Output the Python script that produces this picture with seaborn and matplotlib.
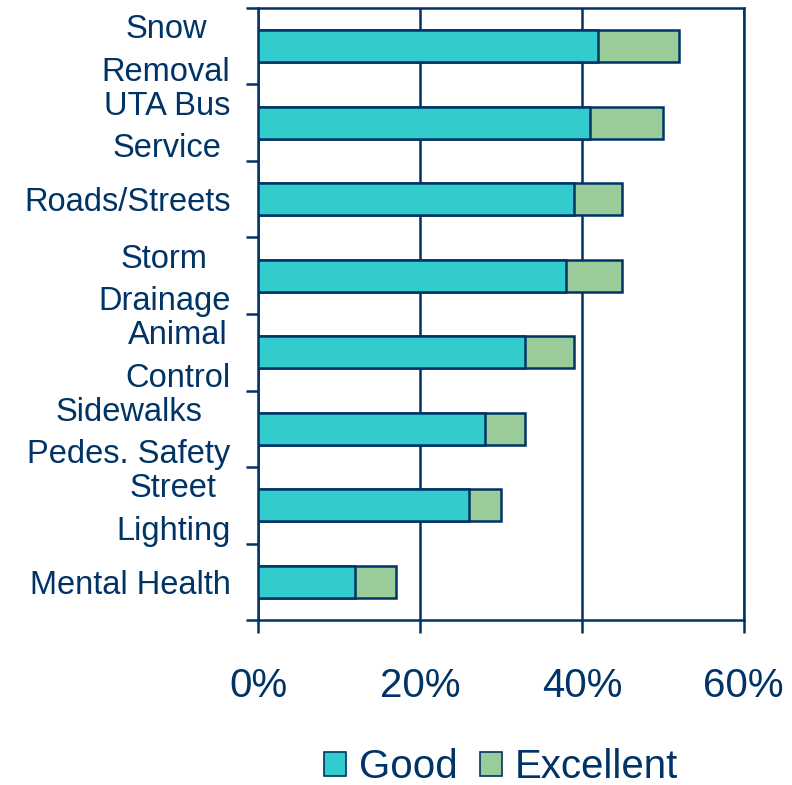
import numpy as np
import pandas as pd
import matplotlib
matplotlib.use("Agg")
import matplotlib.pyplot as plt
import seaborn as sns
from matplotlib.ticker import FixedLocator, FuncFormatter
from matplotlib.patches import Patch
from matplotlib.transforms import ScaledTranslation

# Dados (percentuais)
categorias = ["Snow\nRemoval", "UTA Bus\nService", "Roads/Streets", "Storm\nDrainage",
              "Animal\nControl", "Sidewalks\nPedes. Safety", "Street\nLighting", "Mental Health"]
good = [42, 41, 39, 38, 33, 28, 26, 12]
excellent = [10, 9, 6, 7, 6, 5, 4, 5]
xticks = [0, 20, 40, 60]

navy = "#003366"
cor_good = "#33CCCC"
cor_exc = "#99CC99"

df = pd.DataFrame({"Categoria": categorias, "Good": good, "Excellent": excellent})
df["Total"] = df["Good"] + df["Excellent"]

sns.set_style("white")
plt.rcParams["font.family"] = ["Liberation Sans", "DejaVu Sans"]

fig = plt.figure(figsize=(7.92, 7.85), dpi=100)
ax = fig.add_axes([0.326, 0.210, 0.613, 0.780])

# Barras empilhadas: total primeiro (Excellent), depois Good por cima
sns.barplot(data=df, y="Categoria", x="Total", orient="h", color=cor_exc, width=0.42,
            edgecolor=navy, linewidth=1.8, saturation=1, ax=ax, zorder=3)
sns.barplot(data=df, y="Categoria", x="Good", orient="h", color=cor_good, width=0.42,
            edgecolor=navy, linewidth=1.8, saturation=1, ax=ax, zorder=4)

ax.set_xlim(0, 60)
ax.set_ylim(len(categorias) - 0.5, -0.5)
ax.set_xlabel("")
ax.set_ylabel("")

ax.xaxis.set_major_locator(FixedLocator(xticks))
ax.xaxis.set_major_formatter(FuncFormatter(lambda v, p: f"{int(v)}%"))
ax.xaxis.grid(True, color=navy, linewidth=1.8)
ax.yaxis.grid(False)
ax.set_axisbelow(True)

# Marcas do eixo Y entre as categorias
ax.yaxis.set_minor_locator(FixedLocator(np.arange(-0.5, len(categorias), 1)))
ax.tick_params(axis="y", which="major", length=0, pad=20, labelsize=23.5, labelcolor=navy)
ax.tick_params(axis="y", which="minor", left=True, length=9, width=1.8, color=navy, direction="out")
ax.tick_params(axis="x", which="major", bottom=True, length=9.5, width=1.8, color=navy,
               direction="out", pad=24, labelsize=29, labelcolor=navy)

# rótulos de duas linhas ficam um pouco acima do centro, como no original
desloca = ScaledTranslation(0, 4.5 / 100, fig.dpi_scale_trans)
for lbl in ax.get_yticklabels():
    lbl.set_multialignment("center")
    lbl.set_linespacing(1.48)
    if "\n" in lbl.get_text():
        lbl.set_transform(lbl.get_transform() + desloca)

for s in ax.spines.values():
    s.set_color(navy)
    s.set_linewidth(1.8)
    s.set_visible(True)

handles = [Patch(facecolor=cor_good, edgecolor=navy, linewidth=1.2, label="Good"),
           Patch(facecolor=cor_exc, edgecolor=navy, linewidth=1.2, label="Excellent")]
leg = ax.legend(handles=handles, loc="center", bbox_to_anchor=(0.5, -0.24), ncol=2,
                frameon=False, fontsize=29, handlelength=0.55, handleheight=0.55,
                handletextpad=0.32, columnspacing=0.55, borderaxespad=0)
for t in leg.get_texts():
    t.set_color(navy)

fig.savefig("out.png", dpi=100)
